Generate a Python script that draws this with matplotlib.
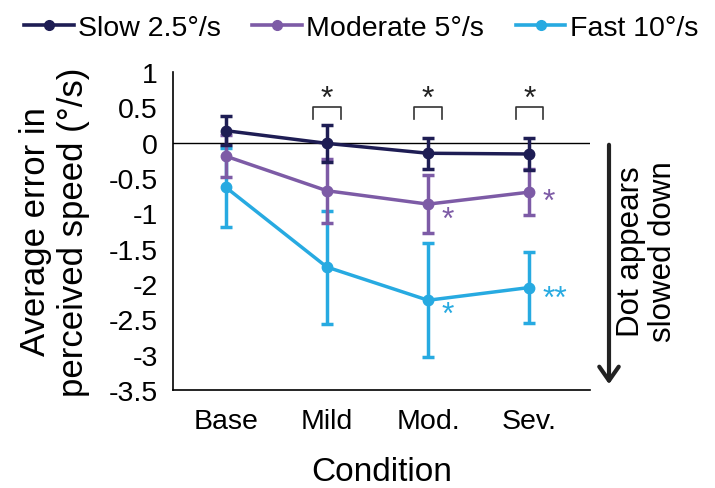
import matplotlib
matplotlib.use("Agg")
import matplotlib.pyplot as plt
import numpy as np

plt.rcParams['font.family'] = ['Liberation Sans', 'DejaVu Sans']

categories = ["Base", "Mild", "Mod.", "Sev."]
series_names = ["Slow 2.5°/s", "Moderate 5°/s", "Fast 10°/s"]
slow_mean = [0.17, -0.01, -0.15, -0.16]
slow_err = [0.21, 0.26, 0.22, 0.22]
moderate_mean = [-0.19, -0.68, -0.87, -0.70]
moderate_err = [0.30, 0.45, 0.41, 0.33]
fast_mean = [-0.63, -1.76, -2.23, -2.05]
fast_err = [0.56, 0.80, 0.81, 0.50]
yticks = [1, 0.5, 0, -0.5, -1, -1.5, -2, -2.5, -3, -3.5]
ytick_labels = ["1", "0.5", "0", "-0.5", "-1", "-1.5", "-2", "-2.5", "-3", "-3.5"]
# significance markers: (category index, y, text, series)
bracket_cats = [1, 2, 3]
series_stars = [(2, -1.09, "*", 1), (3, -0.84, "*", 1), (2, -2.44, "*", 2), (3, -2.21, "**", 2)]

colors = ["#1e1d54", "#7d5ba6", "#27aae1"]
means = [slow_mean, moderate_mean, fast_mean]
errs = [slow_err, moderate_err, fast_err]

fig = plt.figure(figsize=(7.15, 4.89), dpi=100)
ax = fig.add_axes([173/715, 1-391/489, (590-173)/715, (391-73)/489])

x = np.arange(len(categories))
for i in [2, 1, 0]:
    ax.errorbar(x, means[i], yerr=errs[i], color=colors[i], lw=2.5, marker='o',
                markersize=7.5, elinewidth=2.5, capsize=4.5, capthick=2.5,
                zorder=3 + (2 - i))
ax.axhline(0, color='black', lw=1.0, zorder=2)

ax.set_xlim(-0.52, 3.6)
ax.set_ylim(-3.5, 1)
ax.set_yticks(yticks)
ax.set_yticklabels(ytick_labels)
ax.set_xticks(x)
ax.set_xticklabels(categories)
ax.tick_params(axis='both', length=0, labelsize=20.5)
ax.tick_params(axis='y', pad=11)
ax.tick_params(axis='x', pad=13)
for s in ['top', 'right']:
    ax.spines[s].set_visible(False)
for s in ['left', 'bottom']:
    ax.spines[s].set_linewidth(1.2)

ax.set_xlabel("Condition", fontsize=24, labelpad=16)
ax.set_ylabel("Average error in\nperceived speed (°/s)", fontsize=25, linespacing=1.2, labelpad=13)

# brackets with stars
for c in bracket_cats:
    ax.plot([c - 0.135, c - 0.135, c + 0.135, c + 0.135], [0.34, 0.50, 0.50, 0.34],
            color='#333333', lw=1.2, clip_on=False)
    ax.text(c, 0.62, "*", fontsize=23, ha='center', va='center', color='#222222')

for c, y, t, s in series_stars:
    ax.text(c + 0.13, y, t, fontsize=23, ha='left', va='center', color=colors[s])

# legend
from matplotlib.lines import Line2D
leg_handles = [Line2D([0], [0], color=colors[i], lw=2.6, marker='o', markersize=7) for i in range(3)]
fig.legend(leg_handles, series_names, loc='center', bbox_to_anchor=(0.505, 0.94), ncol=3,
           frameon=False, handlelength=1.75, handletextpad=0.15, columnspacing=1.1,
           prop={'size': 20.5})

# arrow annotation
fig.add_artist(matplotlib.patches.FancyArrowPatch((609/715, 1-143/489), (609/715, 1-388/489),
               transform=fig.transFigure, arrowstyle='->,head_length=0.5,head_width=0.35',
               mutation_scale=20, lw=3, color='#222222'))
fig.text(647/715, 1-252/489, "Dot appears\nslowed down", rotation=90, fontsize=22.5,
         ha='center', va='center', linespacing=1.05)

fig.savefig("out.png", dpi=100)
